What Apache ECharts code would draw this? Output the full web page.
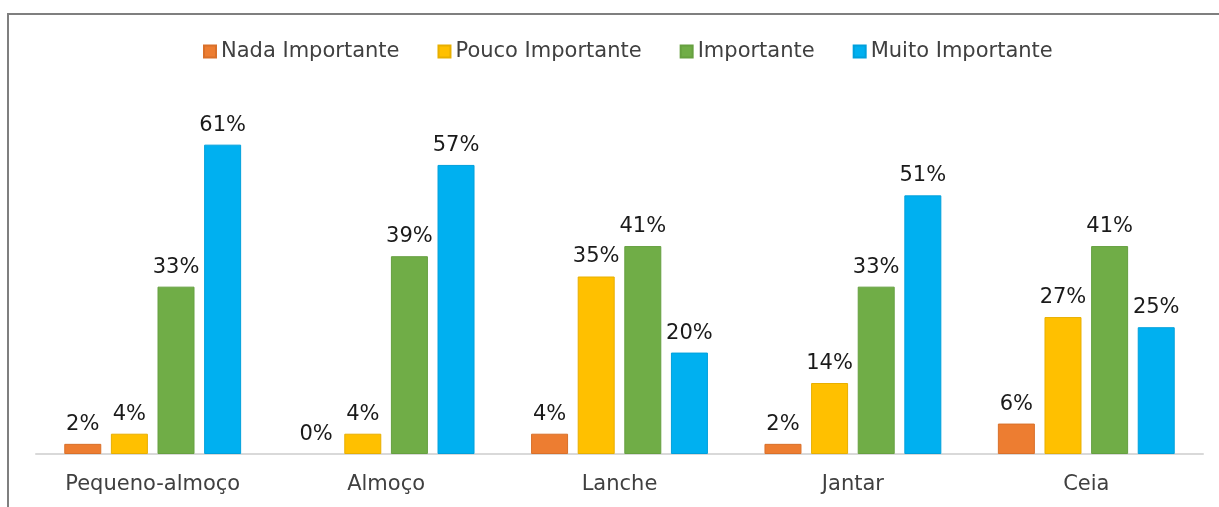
<!DOCTYPE html>
<html>
<head>
<meta charset="utf-8">
<script src="https://cdn.jsdelivr.net/npm/echarts@6/dist/echarts.min.js"></script>
<style>
  html, body { margin: 0; padding: 0; background: #fff; }
  #chart { width: 1219px; height: 507px; }
</style>
</head>
<body>
<div id="chart"></div>
<script>
const categories = ['Pequeno-almoço', 'Almoço', 'Lanche', 'Jantar', 'Ceia']
const nadaImportante = [2, 0, 4, 2, 6]
const poucoImportante = [4, 4, 35, 14, 27]
const importante = [33, 39, 41, 33, 41]
const muitoImportante = [61, 57, 20, 51, 25]

const seriesNames = ['Nada Importante', 'Pouco Importante', 'Importante', 'Muito Importante']
const seriesData = [nadaImportante, poucoImportante, importante, muitoImportante]
const colors = ['#ED7D31', '#FFC000', '#70AD47', '#00B0F0']
const borders = ['#D9702A', '#E8AF00', '#66A040', '#00A0DC']

const chart = echarts.init(document.getElementById('chart'))

chart.setOption({
  animation: false,
  textStyle: { fontFamily: 'DejaVu Sans, sans-serif' },
  graphic: [{
    type: 'rect',
    shape: { x: 8, y: 14, width: 1300, height: 600 },
    style: { fill: 'none', stroke: '#7f7f7f', lineWidth: 2 },
    silent: true
  }],
  legend: {
    top: 36,
    left: 198,
    itemWidth: 12,
    itemHeight: 12,
    itemGap: 38,
    icon: 'rect',
    textStyle: { fontSize: 21, color: '#404040' },
    data: seriesNames
  },
  grid: { left: 36, right: 16, top: 99, bottom: 53 },
  xAxis: {
    type: 'category',
    data: categories,
    axisLine: { lineStyle: { color: '#d9d9d9', width: 2 } },
    axisTick: { show: false },
    axisLabel: { fontSize: 21, color: '#404040', margin: 20 }
  },
  yAxis: {
    type: 'value',
    min: 0,
    max: 70,
    show: false,
    splitLine: { show: false }
  },
  series: seriesData.map((d, i) => ({
    name: seriesNames[i],
    type: 'bar',
    // zero-height bars get no border, so nothing shows above the axis line
    data: d.map(v => (v === 0 ? { value: v, itemStyle: { borderWidth: 0 } } : v)),
    barWidth: 37,
    barGap: '26%',
    itemStyle: { color: colors[i], borderColor: borders[i], borderWidth: 1 },
    label: {
      show: true,
      position: 'top',
      distance: 9,
      fontSize: 21,
      color: '#1a1a1a',
      formatter: p => p.value + '%'
    }
  }))
})
</script>
</body>
</html>
